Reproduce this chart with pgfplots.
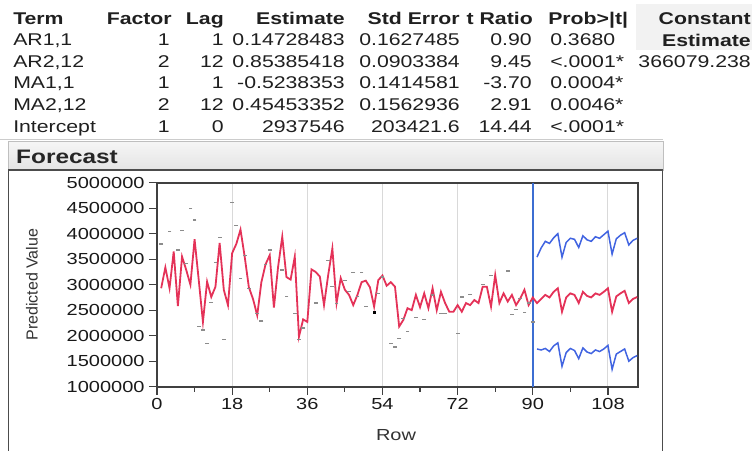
\documentclass[border=0pt]{standalone}
\usepackage{fontspec}
\setmainfont{Liberation Sans}
\usepackage{graphicx}
\usepackage{pgfplots}
\pgfplotsset{compat=1.18}

\definecolor{jred}{RGB}{228,50,88}
\definecolor{jblue}{RGB}{65,100,225}
\definecolor{vblue}{RGB}{60,110,210}
\definecolor{barTop}{RGB}{246,246,246}
\definecolor{barBot}{RGB}{228,228,228}
\definecolor{hdr}{RGB}{242,242,242}

\pgfplotstableread{
x y
1 2.93e6
2 3.34e6
3 2.93e6
4 3.65e6
5 2.58e6
6 3.55e6
7 3.29e6
8 3.00e6
9 3.89e6
10 3.09e6
11 2.27e6
12 3.06e6
13 2.76e6
14 2.96e6
15 3.82e6
16 2.90e6
17 2.60e6
18 3.62e6
19 3.80e6
20 4.08e6
21 3.55e6
22 2.95e6
23 2.72e6
24 2.40e6
25 3.05e6
26 3.40e6
27 3.58e6
28 2.55e6
29 3.35e6
30 3.94e6
31 3.15e6
32 3.10e6
33 3.55e6
34 1.98e6
35 2.32e6
36 2.27e6
37 3.30e6
38 3.25e6
39 3.16e6
40 2.60e6
41 3.19e6
42 3.71e6
43 2.64e6
44 3.13e6
45 2.90e6
46 2.80e6
47 2.60e6
48 2.80e6
49 3.05e6
50 3.08e6
51 2.95e6
52 2.57e6
53 3.09e6
54 3.18e6
55 2.98e6
56 3.05e6
57 2.96e6
58 2.18e6
59 2.31e6
60 2.54e6
61 2.50e6
62 2.80e6
63 2.56e6
64 2.83e6
65 2.54e6
66 2.93e6
67 2.50e6
68 2.86e6
69 2.64e6
70 2.47e6
71 2.47e6
72 2.60e6
73 2.47e6
74 2.64e6
75 2.60e6
76 2.70e6
77 2.64e6
78 2.96e6
79 2.96e6
80 2.57e6
81 3.19e6
82 2.64e6
83 2.83e6
84 2.67e6
85 2.80e6
86 2.60e6
87 2.73e6
88 2.90e6
89 2.60e6
90 2.75e6
91 2.64e6
92 2.72e6
93 2.80e6
94 2.75e6
95 2.86e6
96 2.93e6
97 2.47e6
98 2.75e6
99 2.83e6
100 2.80e6
101 2.64e6
102 2.86e6
103 2.78e6
104 2.75e6
105 2.83e6
106 2.80e6
107 2.86e6
108 2.93e6
109 2.47e6
110 2.77e6
111 2.83e6
112 2.88e6
113 2.64e6
114 2.72e6
115 2.76e6
}\predicted

\pgfplotstableread{
x up lo
91 3.54e6 1.74e6
92 3.72e6 1.72e6
93 3.85e6 1.75e6
94 3.81e6 1.69e6
95 3.92e6 1.80e6
96 4.00e6 1.86e6
97 3.54e6 1.40e6
98 3.83e6 1.67e6
99 3.91e6 1.75e6
100 3.89e6 1.71e6
101 3.73e6 1.55e6
102 3.96e6 1.76e6
103 3.88e6 1.68e6
104 3.85e6 1.65e6
105 3.94e6 1.72e6
106 3.91e6 1.69e6
107 3.98e6 1.74e6
108 4.05e6 1.81e6
109 3.60e6 1.34e6
110 3.90e6 1.64e6
111 3.97e6 1.69e6
112 4.02e6 1.74e6
113 3.78e6 1.50e6
114 3.87e6 1.57e6
115 3.91e6 1.61e6
}\limits

% actual values that show apart from the prediction line
\pgfplotstableread{
x y
1 3.80e6
3 4.04e6
5 3.68e6
6 4.07e6
7 3.41e6
8 4.50e6
9 4.27e6
10 2.18e6
11 2.11e6
12 1.85e6
13 2.65e6
14 3.43e6
15 3.93e6
16 1.93e6
18 4.61e6
19 4.16e6
20 3.12e6
21 3.57e6
22 2.93e6
24 2.44e6
25 2.29e6
26 3.39e6
27 3.68e6
30 3.29e6
31 2.77e6
33 2.44e6
34 1.93e6
35 2.15e6
38 2.64e6
41 3.48e6
42 2.96e6
43 2.63e6
45 3.09e6
46 2.86e6
47 3.24e6
48 2.77e6
49 3.24e6
50 2.58e6
53 2.83e6
54 3.15e6
56 1.85e6
57 1.78e6
58 1.95e6
59 2.33e6
60 2.08e6
62 2.35e6
64 2.31e6
66 2.80e6
68 2.44e6
69 2.44e6
72 2.05e6
73 2.76e6
75 2.81e6
78 3.00e6
80 3.18e6
84 3.27e6
85 2.41e6
86 2.52e6
87 2.73e6
88 2.45e6
89 2.64e6
90 2.27e6
}\actual

\begin{document}
\begin{tikzpicture}[x=1pt,y=1pt,
  tb/.style={font=\fontsize{17}{17}\selectfont, xscale=1.25, inner sep=0pt, text=black!88},
  th/.style={tb, font=\fontsize{17}{17}\selectfont\bfseries}]
\path[use as bounding box] (0,0) rectangle (752,-450);

% parameter table
\fill[hdr] (636,-4) rectangle (752,-50);
\node[th,anchor=base west] at (13,-24) {Term};
\node[th,anchor=base east] at (172,-24) {Factor};
\node[th,anchor=base east] at (224,-24) {Lag};
\node[th,anchor=base east] at (345,-24) {Estimate};
\node[th,anchor=base east] at (460,-24) {Std Error};
\node[th,anchor=base east] at (533,-24) {t Ratio};
\node[th,anchor=base west] at (548,-24) {Prob>|t|};
\node[th,anchor=base east] at (751,-24) {Constant};
\node[th,anchor=base east] at (751,-46) {Estimate};
\node[tb,anchor=base east] at (751,-67) {366079.238};

\foreach \term/\fa/\lag/\est/\se/\tr/\pr [count=\i] in {
  AR1{,}1/1/1/0.14728483/0.1627485/0.90/0.3680,
  AR2{,}12/2/12/0.85385418/0.0903384/9.45/<.0001*,
  MA1{,}1/1/1/-0.5238353/0.1414581/-3.70/0.0004*,
  MA2{,}12/2/12/0.45453352/0.1562936/2.91/0.0046*,
  Intercept/1/0/2937546/203421.6/14.44/<.0001*}{
  \pgfmathsetmacro\yy{-24-21.6*\i}
  \node[tb,anchor=base west] at (13,\yy) {\term};
  \node[tb,anchor=base east] at (170,\yy) {\fa};
  \node[tb,anchor=base east] at (224,\yy) {\lag};
  \node[tb,anchor=base east] at (345,\yy) {\est};
  \node[tb,anchor=base east] at (460,\yy) {\se};
  \node[tb,anchor=base east] at (532,\yy) {\tr};
  \node[tb,anchor=base west] at (550,\yy) {\pr};
}
\draw[black!20, line width=1pt] (0,-139) -- (663,-139);

% Forecast bar and panel
\shade[top color=barTop, bottom color=barBot] (8,-141) rectangle (663,-170);
\draw[black!25] (8,-141) rectangle (663,-170);
\node[font=\fontsize{19.5}{19.5}\selectfont\bfseries, xscale=1.25, anchor=base west, inner sep=0pt, text=black!85] at (16,-163) {Forecast};
\draw[black!70, line width=1.5pt] (8.5,-452) -- (8.5,-170) -- (662.5,-170) -- (662.5,-452);

\begin{axis}[
  at={(157pt,-386.7pt)}, anchor=south west,
  width=481pt, height=204pt, scale only axis,
  xmin=0, xmax=115.2, ymin=1000000, ymax=5000000,
  scaled y ticks=false,
  xtick={0,18,36,54,72,90,108}, minor x tick num=1,
  ytick={1000000,1500000,2000000,2500000,3000000,3500000,4000000,4500000,5000000},
  yticklabels={1000000,1500000,2000000,2500000,3000000,3500000,4000000,4500000,5000000},
  xticklabels={0,18,36,54,72,90,108},
  /pgf/number format/assume math mode=true,
  ticklabel style={font=\fontsize{16}{16}\selectfont, xscale=1.25, text=black!90},
  tick align=outside, major tick length=8pt, minor tick length=5pt,
  xtick pos=left, ytick pos=left,
  tick style={line width=1.2pt, black!75},
  axis line style={line width=1.6pt, black!75},
  xmajorgrids, major grid style={line width=0.9pt, black!15},
  xlabel={Row}, ylabel={Predicted Value},
  every axis x label/.style={at={(axis description cs:0.497,-0.235)}, anchor=center,
    font=\fontsize{16}{16}\selectfont, xscale=1.25, text=black!80},
  every axis y label/.style={at={(axis description cs:-0.26,0.5)}, rotate=90, anchor=center,
    font=\fontsize{16}{16}\selectfont, text=black!80},
]
\addplot[vblue, line width=1.5pt] coordinates {(90,1000000) (90,5000000)};
\addplot[jred, line width=1.8pt] table[x=x,y=y] {\predicted};
\addplot[jblue, line width=1.5pt] table[x=x,y=up] {\limits};
\addplot[jblue, line width=1.5pt] table[x=x,y=lo] {\limits};
\addplot[black!45, only marks, mark=-, mark size=1.9pt, mark options={line width=1.2pt}] table[x=x,y=y] {\actual};
\addplot[black, only marks, mark=square*, mark size=1.3pt] coordinates {(52,2460000)};
\end{axis}
\end{tikzpicture}
\end{document}
